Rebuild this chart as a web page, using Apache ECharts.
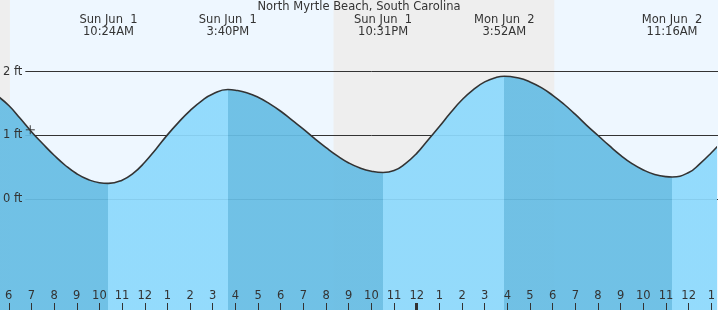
<!DOCTYPE html>
<html>
<head>
<meta charset="utf-8">
<script src="https://cdn.jsdelivr.net/npm/echarts@6/dist/echarts.min.js"></script>
<style>
html,body{margin:0;padding:0;background:#eef7ff;}
#chart{width:718px;height:310px;}
</style>
</head>
<body>
<div id="chart"></div>
<script>
// ---- data (hours measured from Sun Jun 1 00:00) ----
const chartTitle = 'North Myrtle Beach, South Carolina';
const viewStartHour = 5.613;
const viewEndHour = 37.146;
const levelMin = -1.735;
const levelMax = 3.124;

const tideHour  = [5.5, 6, 6.5, 7, 7.5, 8, 8.5, 9, 9.5, 10, 10.4,
  11, 11.5, 12, 12.5, 13, 13.5, 14, 14.5, 15, 15.667,
  16, 16.5, 17, 17.5, 18, 18.5, 19, 19.5, 20, 20.5, 21, 21.5, 22, 22.517,
  23, 23.5, 24, 24.5, 25, 25.5, 26, 26.5, 27, 27.5, 27.867,
  28.5, 29, 29.5, 30, 30.5, 31, 31.5, 32, 32.5, 33, 33.5, 34, 34.5, 35, 35.267,
  36, 36.5, 37, 37.5];
const tideLevel = [1.62, 1.47, 1.27, 1.06, 0.87, 0.69, 0.53, 0.40, 0.31, 0.26, 0.25,
  0.30, 0.41, 0.58, 0.79, 1.01, 1.21, 1.39, 1.54, 1.65, 1.72,
  1.71, 1.67, 1.60, 1.50, 1.38, 1.24, 1.10, 0.95, 0.81, 0.68, 0.57, 0.49, 0.44, 0.42,
  0.45, 0.56, 0.72, 0.93, 1.14, 1.36, 1.56, 1.72, 1.84, 1.91, 1.93,
  1.90, 1.84, 1.75, 1.63, 1.49, 1.33, 1.16, 1.00, 0.84, 0.69, 0.56, 0.46, 0.39, 0.355, 0.35,
  0.42, 0.56, 0.73, 0.92];

const extremeHour  = [10 + 24/60, 15 + 40/60, 22 + 31/60, 24 + 3 + 52/60, 24 + 11 + 16/60];
const extremeType  = ['L', 'H', 'L', 'H', 'L'];
const extremeDay   = ['Sun Jun  1', 'Sun Jun  1', 'Sun Jun  1', 'Mon Jun  2', 'Mon Jun  2'];
const extremeClock = ['10:24AM', '3:40PM', '10:31PM', '3:52AM', '11:16AM'];

const nightStart = [0, 20.33];
const nightEnd   = [6.05, 30.07];

const hourTicks = [6,7,8,9,10,11,12,13,14,15,16,17,18,19,20,21,22,23,24,25,26,27,28,29,30,31,32,33,34,35,36,37];
const midnightTicks = [24];
const gridLevels = [0, 1, 2];

const nowHour = 6.95;
const nowLevel = 1.09;

// ---- styles ----
const FONT = 'DejaVu Sans';
const TEXT = '#333';
const DARK = '#67bde4';
const LIGHT = '#8dd9fc';
const NIGHT = '#eeeeee';

const chart = echarts.init(document.getElementById('chart'), null, {renderer: 'canvas'});
const H = 310;
const pxPerFt = H / (levelMax - levelMin);
const lvlLo = Math.min.apply(null, gridLevels), lvlHi = Math.max.apply(null, gridLevels);

const pieces = [];
for (let i = 0; i < extremeHour.length; i++) {
  const p = {lt: extremeHour[i], color: extremeType[i] === 'L' ? DARK : LIGHT};
  if (i > 0) p.gte = extremeHour[i - 1];
  pieces.push(p);
}
pieces.push({gte: extremeHour[extremeHour.length - 1],
  color: extremeType[extremeHour.length - 1] === 'L' ? LIGHT : DARK});

const tideData = tideHour.map((h, i) => [h, tideLevel[i]]);
const nightData = nightStart.map((s, i) => [s, nightEnd[i]]);

const noLine = {show: false, onZero: false};

const option = {
  animation: false,
  backgroundColor: '#eef7ff',
  title: {
    text: chartTitle, left: 'center', top: 1, padding: 0,
    textStyle: {fontFamily: FONT, fontSize: 11.5, fontWeight: 'normal', color: TEXT}
  },
  grid: [
    {left: 0, right: 0, top: 0, bottom: 0},
    {left: 22, right: 0, top: (levelMax - lvlHi) * pxPerFt, height: (lvlHi - lvlLo) * pxPerFt}
  ],
  xAxis: [
    {type: 'value', gridIndex: 0, min: viewStartHour, max: viewEndHour, position: 'bottom', z: 5,
     axisLine: noLine, splitLine: {show: false},
     axisTick: {show: true, inside: true, length: 7, customValues: hourTicks, lineStyle: {color: TEXT, width: 1}},
     axisLabel: {show: true, inside: true, margin: 8, customValues: hourTicks, color: TEXT,
       fontFamily: FONT, fontSize: 11.5, hideOverlap: false,
       formatter: v => String(((Math.round(v) % 12) + 12) % 12 || 12)}},
    {type: 'value', gridIndex: 0, min: viewStartHour, max: viewEndHour, position: 'bottom', z: 5,
     axisLine: noLine, splitLine: {show: false},
     axisTick: {show: true, inside: true, length: 7, customValues: midnightTicks, lineStyle: {color: TEXT, width: 3}},
     axisLabel: {show: false}},
    {type: 'value', gridIndex: 0, min: viewStartHour, max: viewEndHour, position: 'top', z: 5,
     axisLine: noLine, splitLine: {show: false}, axisTick: {show: false},
     axisLabel: {show: true, inside: true, margin: 14, customValues: extremeHour, color: TEXT,
       fontFamily: FONT, fontSize: 11.5, lineHeight: 12, hideOverlap: false, align: 'center',
       formatter: v => {
         let k = 0, best = 1e9;
         extremeHour.forEach((h, i) => { const d = Math.abs(h - v); if (d < best) { best = d; k = i; } });
         return extremeDay[k] + '\n' + extremeClock[k];
       }}},
    {type: 'value', gridIndex: 1, min: viewStartHour, max: viewEndHour, show: false,
     axisLine: noLine, axisTick: {show: false}, axisLabel: {show: false}, splitLine: {show: false}}
  ],
  yAxis: [
    {type: 'value', gridIndex: 0, min: levelMin, max: levelMax, show: false,
     axisLine: noLine, splitLine: {show: false}},
    {type: 'value', gridIndex: 1, min: lvlLo, max: lvlHi, interval: 1, z: 1,
     axisLine: noLine, axisTick: {show: false}, axisLabel: {show: false},
     splitLine: {show: true, lineStyle: {color: TEXT, width: 1}}},
    {type: 'value', gridIndex: 1, min: lvlLo, max: lvlHi, interval: 1, z: 6, position: 'left',
     axisLine: noLine, axisTick: {show: false}, splitLine: {show: false},
     axisLabel: {show: true, margin: 3, color: TEXT, fontFamily: FONT, fontSize: 11.5,
       formatter: '{value} ft'}}
  ],
  visualMap: {type: 'piecewise', show: false, dimension: 0, seriesIndex: 1, pieces: pieces},
  series: [
    {type: 'custom', xAxisIndex: 0, yAxisIndex: 0, z: 0, silent: true, data: nightData,
     encode: {x: [0, 1]},
     renderItem: function (params, api) {
       const s = Math.max(api.value(0), viewStartHour);
       const e = Math.min(api.value(1), viewEndHour);
       const p0 = api.coord([s, levelMax]);
       const p1 = api.coord([e, levelMin]);
       return {type: 'rect', shape: {x: p0[0], y: p0[1], width: p1[0] - p0[0], height: p1[1] - p0[1]},
               style: {fill: NIGHT}};
     }},
    {type: 'line', xAxisIndex: 0, yAxisIndex: 0, z: 2, data: tideData, smooth: 0.5,
     symbol: 'none', silent: true,
     lineStyle: {color: TEXT, width: 1.6},
     areaStyle: {opacity: 0.93, origin: 'start'}},
    {type: 'scatter', xAxisIndex: 0, yAxisIndex: 0, z: 4, silent: true, symbol: 'rect',
     itemStyle: {color: TEXT},
     data: [{value: [nowHour, nowLevel], symbolSize: [9, 1.2]}, {value: [nowHour, nowLevel], symbolSize: [1.2, 9]}]}
  ]
};
chart.setOption(option);
</script>
</body>
</html>
